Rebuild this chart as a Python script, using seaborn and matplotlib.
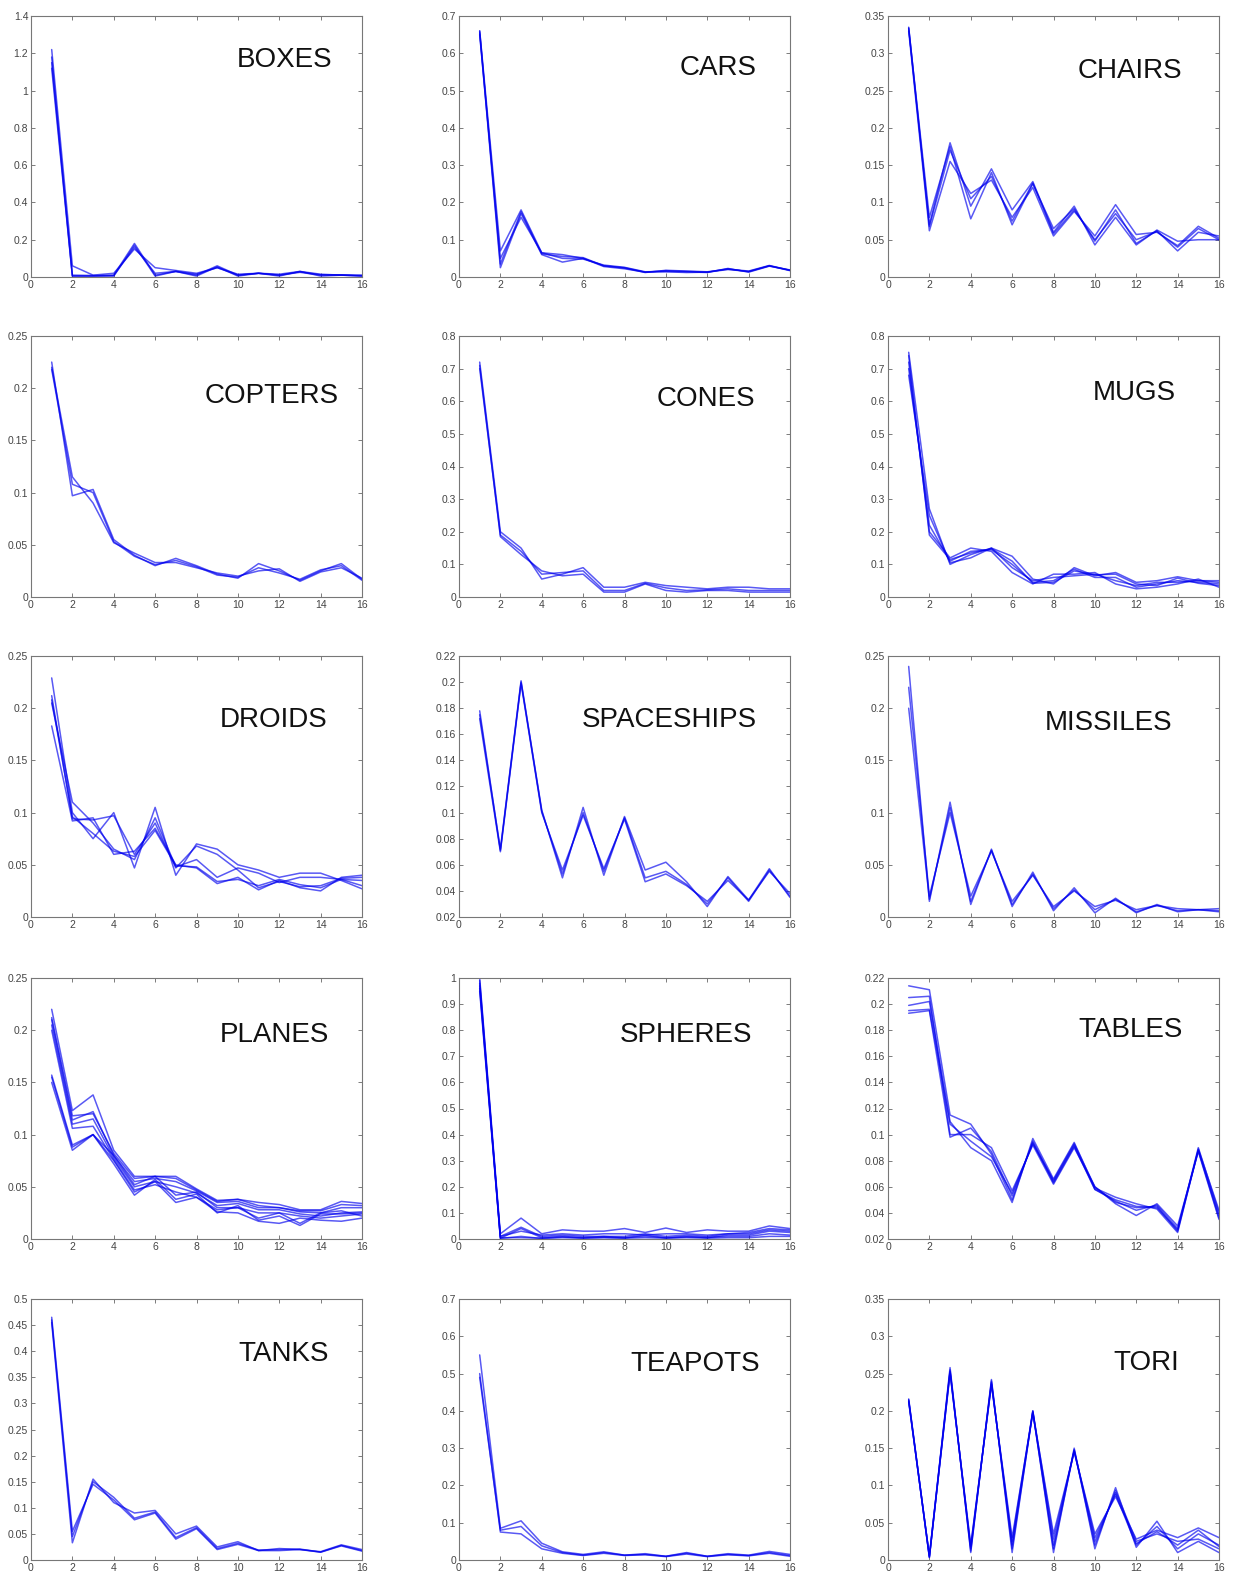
import numpy as np
import pandas as pd
import seaborn as sns
import matplotlib
matplotlib.use("Agg")
import matplotlib.pyplot as plt
from matplotlib.ticker import FuncFormatter

x = list(range(1, 17))

# per class: a few runs of 16 values each
boxes = [
    [1.22, 0.06, 0.01, 0.02, 0.15, 0.05, 0.035, 0.02, 0.05, 0.015, 0.02, 0.015, 0.03, 0.015, 0.01, 0.01],
    [1.15, 0.005, 0.005, 0.005, 0.17, 0.005, 0.03, 0.005, 0.055, 0.005, 0.02, 0.005, 0.03, 0.005, 0.01, 0.005],
    [1.12, 0.005, 0.005, 0.01, 0.18, 0.01, 0.03, 0.01, 0.06, 0.01, 0.02, 0.01, 0.025, 0.01, 0.01, 0.005],
    [1.18, 0.01, 0.008, 0.008, 0.16, 0.02, 0.03, 0.015, 0.05, 0.01, 0.02, 0.01, 0.028, 0.012, 0.012, 0.008],
]
cars = [
    [0.66, 0.07, 0.18, 0.065, 0.06, 0.05, 0.03, 0.025, 0.013, 0.017, 0.015, 0.013, 0.022, 0.014, 0.03, 0.018],
    [0.655, 0.025, 0.17, 0.06, 0.04, 0.05, 0.028, 0.022, 0.013, 0.014, 0.012, 0.013, 0.02, 0.015, 0.03, 0.017],
    [0.65, 0.05, 0.16, 0.065, 0.05, 0.048, 0.032, 0.026, 0.014, 0.015, 0.014, 0.012, 0.023, 0.013, 0.029, 0.019],
    [0.66, 0.035, 0.175, 0.062, 0.055, 0.052, 0.03, 0.024, 0.012, 0.018, 0.016, 0.014, 0.021, 0.016, 0.031, 0.018],
]
chairs = [
    [0.335, 0.07, 0.18, 0.095, 0.145, 0.09, 0.128, 0.06, 0.095, 0.043, 0.08, 0.043, 0.063, 0.048, 0.05, 0.05],
    [0.33, 0.062, 0.155, 0.112, 0.13, 0.08, 0.12, 0.055, 0.088, 0.055, 0.097, 0.057, 0.06, 0.042, 0.068, 0.052],
    [0.333, 0.08, 0.175, 0.078, 0.14, 0.07, 0.125, 0.065, 0.092, 0.048, 0.09, 0.045, 0.062, 0.035, 0.06, 0.055],
    [0.334, 0.068, 0.17, 0.105, 0.135, 0.075, 0.126, 0.058, 0.09, 0.05, 0.085, 0.05, 0.061, 0.04, 0.065, 0.05],
]
copters = [
    [0.225, 0.097, 0.103, 0.055, 0.04, 0.03, 0.037, 0.03, 0.022, 0.018, 0.032, 0.025, 0.016, 0.025, 0.032, 0.017],
    [0.22, 0.115, 0.09, 0.052, 0.042, 0.033, 0.033, 0.028, 0.023, 0.02, 0.025, 0.027, 0.015, 0.024, 0.028, 0.018],
    [0.218, 0.108, 0.1, 0.053, 0.039, 0.031, 0.035, 0.029, 0.021, 0.019, 0.028, 0.023, 0.017, 0.026, 0.03, 0.016],
]
cones = [
    [0.72, 0.2, 0.15, 0.055, 0.07, 0.09, 0.03, 0.03, 0.045, 0.035, 0.03, 0.025, 0.03, 0.03, 0.025, 0.025],
    [0.71, 0.185, 0.13, 0.08, 0.065, 0.07, 0.015, 0.015, 0.04, 0.02, 0.015, 0.02, 0.02, 0.015, 0.015, 0.015],
    [0.7, 0.19, 0.14, 0.07, 0.075, 0.08, 0.02, 0.02, 0.042, 0.028, 0.02, 0.022, 0.025, 0.02, 0.02, 0.02],
]
mugs = [
    [0.75, 0.27, 0.1, 0.13, 0.15, 0.125, 0.055, 0.04, 0.09, 0.065, 0.075, 0.045, 0.05, 0.062, 0.05, 0.05],
    [0.72, 0.2, 0.12, 0.15, 0.14, 0.075, 0.04, 0.07, 0.07, 0.075, 0.04, 0.025, 0.03, 0.04, 0.055, 0.03],
    [0.7, 0.22, 0.11, 0.14, 0.145, 0.1, 0.045, 0.05, 0.085, 0.06, 0.06, 0.03, 0.04, 0.05, 0.045, 0.04],
    [0.68, 0.25, 0.105, 0.12, 0.15, 0.09, 0.05, 0.06, 0.065, 0.07, 0.05, 0.035, 0.045, 0.045, 0.05, 0.045],
    [0.74, 0.19, 0.115, 0.135, 0.148, 0.11, 0.042, 0.045, 0.08, 0.068, 0.07, 0.04, 0.035, 0.058, 0.042, 0.035],
]
droids = [
    [0.229, 0.1, 0.075, 0.1, 0.047, 0.105, 0.04, 0.07, 0.065, 0.05, 0.045, 0.038, 0.042, 0.042, 0.035, 0.027],
    [0.183, 0.092, 0.095, 0.06, 0.063, 0.085, 0.05, 0.047, 0.032, 0.038, 0.026, 0.035, 0.028, 0.025, 0.038, 0.04],
    [0.205, 0.11, 0.09, 0.065, 0.055, 0.095, 0.048, 0.055, 0.038, 0.047, 0.042, 0.033, 0.038, 0.038, 0.036, 0.03],
    [0.212, 0.094, 0.093, 0.097, 0.06, 0.09, 0.047, 0.068, 0.06, 0.045, 0.028, 0.034, 0.029, 0.03, 0.037, 0.038],
    [0.208, 0.096, 0.08, 0.063, 0.058, 0.083, 0.049, 0.048, 0.034, 0.036, 0.03, 0.036, 0.031, 0.028, 0.036, 0.035],
]
spaceships = [
    [0.178, 0.071, 0.2, 0.102, 0.05, 0.104, 0.052, 0.097, 0.056, 0.062, 0.047, 0.028, 0.051, 0.033, 0.057, 0.035],
    [0.172, 0.07, 0.199, 0.1, 0.056, 0.098, 0.057, 0.095, 0.047, 0.053, 0.044, 0.032, 0.048, 0.033, 0.055, 0.038],
    [0.175, 0.072, 0.201, 0.101, 0.053, 0.1, 0.055, 0.096, 0.05, 0.055, 0.045, 0.03, 0.05, 0.032, 0.056, 0.036],
]
missiles = [
    [0.24, 0.015, 0.11, 0.012, 0.065, 0.01, 0.043, 0.006, 0.028, 0.004, 0.018, 0.004, 0.012, 0.005, 0.007, 0.005],
    [0.22, 0.02, 0.1, 0.02, 0.063, 0.015, 0.04, 0.01, 0.025, 0.01, 0.016, 0.007, 0.011, 0.008, 0.007, 0.008],
    [0.2, 0.017, 0.105, 0.015, 0.064, 0.012, 0.041, 0.008, 0.026, 0.007, 0.017, 0.005, 0.011, 0.006, 0.007, 0.006],
]
planes = [
    [0.22, 0.123, 0.138, 0.085, 0.06, 0.06, 0.06, 0.048, 0.037, 0.038, 0.035, 0.033, 0.028, 0.028, 0.036, 0.034],
    [0.21, 0.114, 0.122, 0.08, 0.055, 0.058, 0.055, 0.046, 0.035, 0.036, 0.03, 0.03, 0.026, 0.025, 0.03, 0.03],
    [0.205, 0.11, 0.115, 0.078, 0.05, 0.055, 0.05, 0.044, 0.032, 0.034, 0.028, 0.028, 0.024, 0.022, 0.025, 0.026],
    [0.2, 0.106, 0.108, 0.076, 0.047, 0.052, 0.045, 0.04, 0.028, 0.03, 0.025, 0.025, 0.022, 0.02, 0.022, 0.024],
    [0.157, 0.09, 0.1, 0.072, 0.042, 0.057, 0.038, 0.043, 0.025, 0.032, 0.018, 0.022, 0.013, 0.024, 0.024, 0.025],
    [0.15, 0.085, 0.1, 0.075, 0.045, 0.055, 0.035, 0.04, 0.026, 0.025, 0.017, 0.015, 0.02, 0.018, 0.017, 0.02],
    [0.155, 0.088, 0.1, 0.08, 0.052, 0.06, 0.042, 0.045, 0.03, 0.03, 0.02, 0.025, 0.015, 0.025, 0.027, 0.022],
    [0.212, 0.118, 0.12, 0.082, 0.058, 0.06, 0.058, 0.047, 0.036, 0.038, 0.032, 0.03, 0.027, 0.027, 0.033, 0.032],
]
spheres = [
    [1.0, 0.02, 0.08, 0.02, 0.035, 0.03, 0.03, 0.04, 0.025, 0.042, 0.025, 0.035, 0.03, 0.03, 0.05, 0.04],
    [0.98, 0.01, 0.045, 0.01, 0.015, 0.01, 0.01, 0.01, 0.02, 0.01, 0.015, 0.01, 0.02, 0.02, 0.035, 0.03],
    [0.97, 0.003, 0.04, 0.005, 0.01, 0.005, 0.01, 0.005, 0.01, 0.005, 0.01, 0.005, 0.015, 0.015, 0.03, 0.025],
    [0.95, 0.002, 0.01, 0.002, 0.005, 0.003, 0.005, 0.003, 0.005, 0.003, 0.005, 0.003, 0.005, 0.005, 0.01, 0.01],
    [0.99, 0.005, 0.005, 0.003, 0.008, 0.004, 0.006, 0.004, 0.015, 0.004, 0.008, 0.006, 0.01, 0.01, 0.02, 0.015],
    [0.96, 0.01, 0.03, 0.015, 0.02, 0.015, 0.02, 0.02, 0.015, 0.02, 0.02, 0.015, 0.02, 0.025, 0.04, 0.035],
]
tables = [
    [0.214, 0.211, 0.115, 0.108, 0.085, 0.05, 0.095, 0.064, 0.092, 0.058, 0.05, 0.045, 0.044, 0.027, 0.09, 0.04],
    [0.205, 0.206, 0.1, 0.1, 0.09, 0.057, 0.092, 0.062, 0.09, 0.06, 0.047, 0.038, 0.047, 0.03, 0.087, 0.035],
    [0.199, 0.202, 0.11, 0.09, 0.08, 0.048, 0.097, 0.066, 0.094, 0.059, 0.052, 0.047, 0.043, 0.025, 0.089, 0.042],
    [0.193, 0.195, 0.098, 0.105, 0.087, 0.053, 0.094, 0.063, 0.091, 0.058, 0.049, 0.042, 0.046, 0.028, 0.088, 0.038],
    [0.195, 0.196, 0.108, 0.095, 0.083, 0.055, 0.093, 0.065, 0.093, 0.06, 0.048, 0.044, 0.045, 0.026, 0.088, 0.036],
]
tanks = [
    [0.465, 0.055, 0.145, 0.115, 0.077, 0.09, 0.04, 0.06, 0.02, 0.03, 0.018, 0.018, 0.02, 0.015, 0.027, 0.017],
    [0.455, 0.033, 0.155, 0.11, 0.09, 0.095, 0.05, 0.065, 0.025, 0.035, 0.018, 0.022, 0.02, 0.016, 0.029, 0.02],
    [0.46, 0.045, 0.15, 0.12, 0.08, 0.092, 0.043, 0.062, 0.022, 0.032, 0.019, 0.02, 0.021, 0.015, 0.028, 0.018],
]
teapots = [
    [0.55, 0.085, 0.105, 0.045, 0.022, 0.015, 0.022, 0.013, 0.017, 0.01, 0.02, 0.01, 0.017, 0.013, 0.023, 0.015],
    [0.5, 0.075, 0.07, 0.03, 0.018, 0.012, 0.018, 0.012, 0.014, 0.009, 0.016, 0.009, 0.014, 0.011, 0.018, 0.01],
    [0.49, 0.08, 0.09, 0.038, 0.02, 0.013, 0.02, 0.013, 0.015, 0.01, 0.018, 0.01, 0.015, 0.012, 0.02, 0.012],
]
tori = [
    [0.215, 0.003, 0.258, 0.01, 0.242, 0.01, 0.2, 0.01, 0.15, 0.015, 0.097, 0.017, 0.052, 0.01, 0.025, 0.01],
    [0.213, 0.005, 0.25, 0.02, 0.235, 0.03, 0.197, 0.035, 0.145, 0.035, 0.085, 0.028, 0.04, 0.03, 0.043, 0.03],
    [0.214, 0.004, 0.253, 0.015, 0.238, 0.02, 0.199, 0.02, 0.148, 0.025, 0.09, 0.022, 0.038, 0.02, 0.04, 0.018],
    [0.212, 0.006, 0.255, 0.012, 0.24, 0.015, 0.198, 0.015, 0.147, 0.02, 0.093, 0.025, 0.035, 0.025, 0.028, 0.015],
    [0.216, 0.004, 0.252, 0.018, 0.236, 0.025, 0.2, 0.028, 0.146, 0.03, 0.088, 0.02, 0.045, 0.015, 0.035, 0.02],
]

names = ["BOXES", "CARS", "CHAIRS", "COPTERS", "CONES", "MUGS",
         "DROIDS", "SPACESHIPS", "MISSILES", "PLANES", "SPHERES", "TABLES",
         "TANKS", "TEAPOTS", "TORI"]
runs = [boxes, cars, chairs, copters, cones, mugs, droids, spaceships, missiles,
        planes, spheres, tables, tanks, teapots, tori]
# (ymin, ymax, step)
yranges = [(0, 1.4, 0.2), (0, 0.7, 0.1), (0, 0.35, 0.05), (0, 0.25, 0.05), (0, 0.8, 0.1),
           (0, 0.8, 0.1), (0, 0.25, 0.05), (0.02, 0.22, 0.02), (0, 0.25, 0.05), (0, 0.25, 0.05),
           (0, 1.0, 0.1), (0.02, 0.22, 0.02), (0, 0.5, 0.05), (0, 0.7, 0.1), (0, 0.35, 0.05)]
label_pos = [(0.91, 0.83), (0.90, 0.80), (0.89, 0.79), (0.93, 0.77), (0.895, 0.76), (0.87, 0.78),
             (0.895, 0.755), (0.90, 0.755), (0.86, 0.745), (0.90, 0.78), (0.885, 0.78), (0.89, 0.80),
             (0.90, 0.79), (0.91, 0.75), (0.88, 0.755)]

sns.set_style("ticks")
plt.rcParams["font.family"] = ["Liberation Sans", "DejaVu Sans"]

W, H = 1234, 1578
fig = plt.figure(figsize=(W / 100, H / 100), dpi=100)
col_left = [31, 459, 888]
row_top = [16, 336, 656, 978, 1299]
aw, ah = 331, 261

fmt = FuncFormatter(lambda v, p: "%g" % round(v, 4))

for i, name in enumerate(names):
    r, c = divmod(i, 3)
    ax = fig.add_axes([col_left[c] / W, 1 - (row_top[r] + ah) / H, aw / W, ah / H])
    rows = []
    for k, ys in enumerate(runs[i]):
        for xv, yv in zip(x, ys):
            rows.append({"x": xv, "y": yv, "run": k})
    df = pd.DataFrame(rows)
    sns.lineplot(data=df, x="x", y="y", units="run", estimator=None, color="#0000ee",
                 alpha=0.65, linewidth=1.1, ax=ax, legend=False)
    lo, hi, st = yranges[i]
    ax.set_xlim(0, 16)
    ax.set_ylim(lo, hi)
    ax.set_xticks(range(0, 17, 2))
    ax.set_yticks(np.round(np.arange(lo, hi + st / 2, st), 4))
    ax.yaxis.set_major_formatter(fmt)
    ax.set_xlabel("")
    ax.set_ylabel("")
    ax.tick_params(direction="in", length=3, width=0.6, top=True, right=True,
                   labelsize=7.5, labelcolor="#444444", color="#666666", pad=2)
    for sp in ax.spines.values():
        sp.set_color("#777777")
        sp.set_linewidth(0.8)
    tx, ty = label_pos[i]
    ax.text(tx, ty, name, transform=ax.transAxes, ha="right", va="center",
            fontsize=20, color="#111111")

fig.savefig("out.png", dpi=100)
